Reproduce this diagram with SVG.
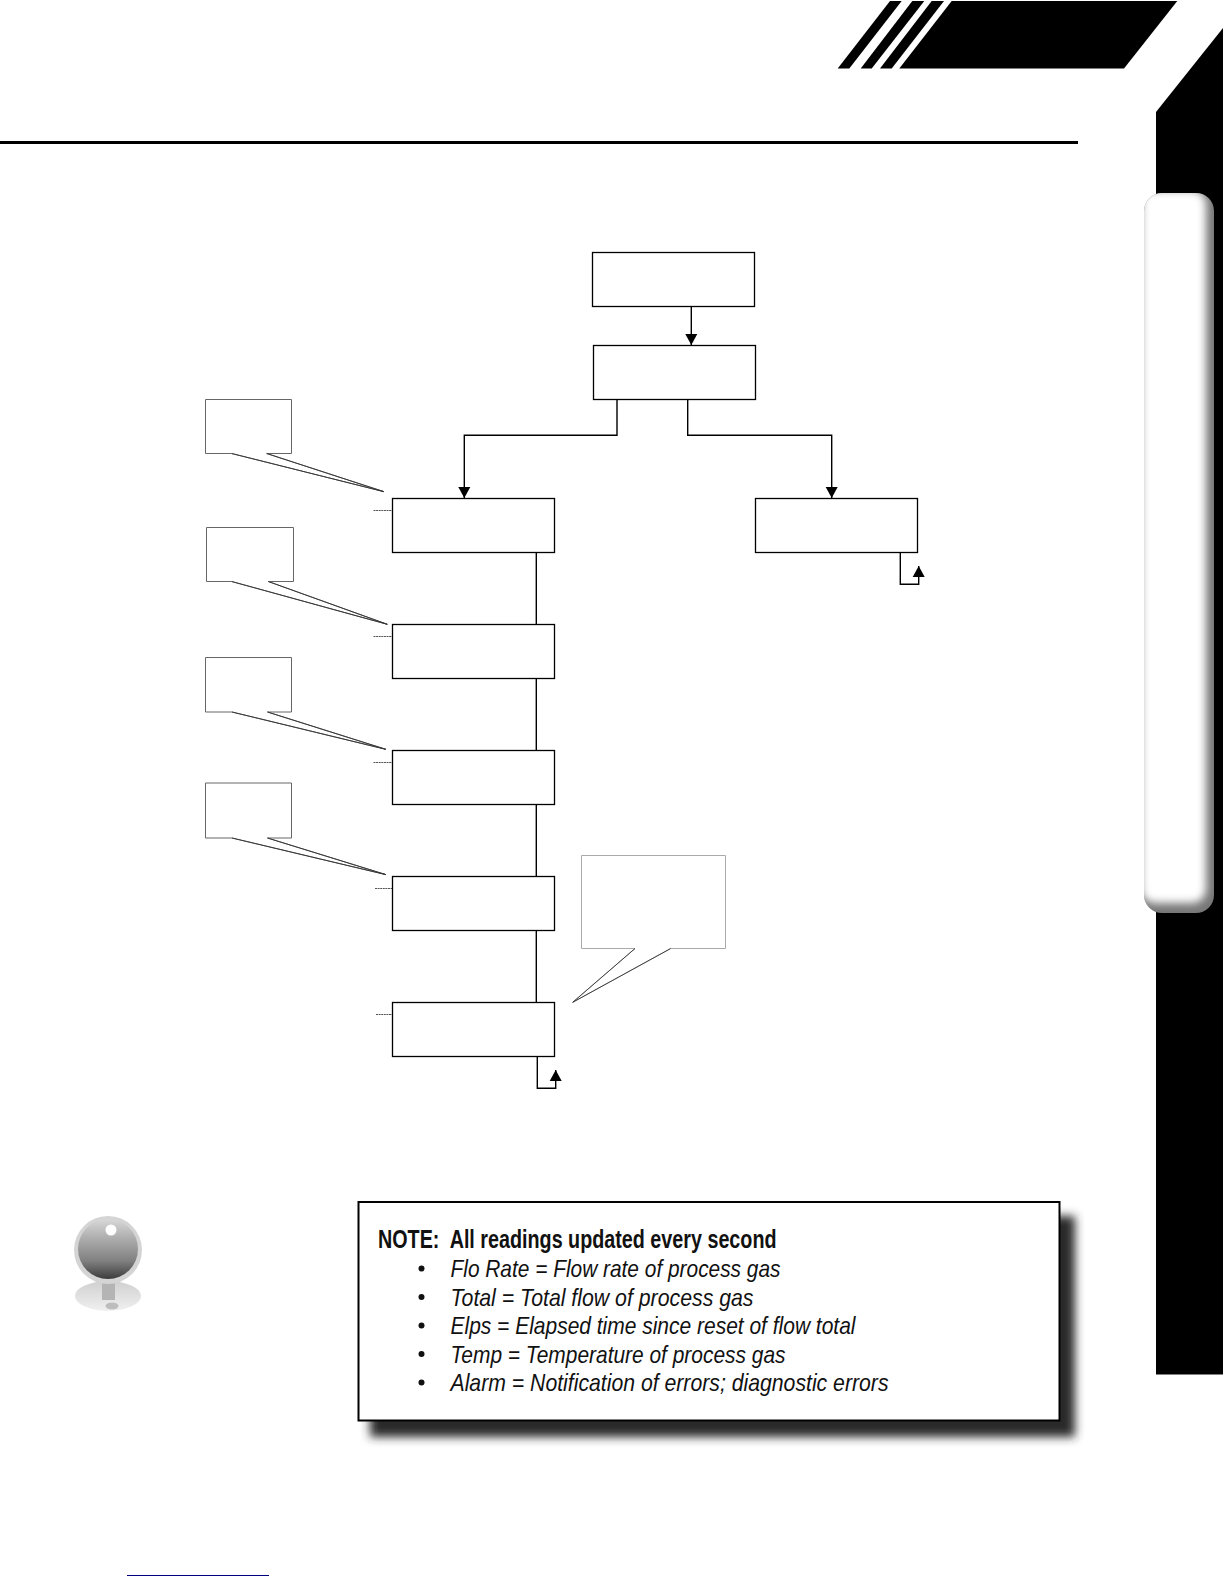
<svg xmlns="http://www.w3.org/2000/svg" width="1224" height="1584" viewBox="0 0 1224 1584">
<style>
.box{fill:#fff;stroke:#000;stroke-width:1.3}
.conn{fill:none;stroke:#000;stroke-width:1.4}
.dash{fill:none;stroke:#555;stroke-width:1;stroke-dasharray:2 .6}
.co{fill:#fff;stroke:#666;stroke-width:1}
.co2{fill:#fff;stroke:#aaa;stroke-width:1}
.tail{fill:none;stroke:#333;stroke-width:.9}
.t{font-family:"Liberation Sans",Arial,sans-serif;font-size:24px;fill:#111;white-space:pre}
.i{font-style:italic}
.b{font-weight:bold;font-size:25px}
</style>
<defs>
<marker id="arrow" markerUnits="userSpaceOnUse" markerWidth="13" markerHeight="14" refX="11" refY="7" orient="auto"><path d="M0,1L11,7L0,13Z" fill="#000"/></marker>
<filter id="blur8" x="-10%" y="-20%" width="120%" height="140%"><feGaussianBlur stdDeviation="5"/></filter>
<filter id="blur3" x="-20%" y="-10%" width="140%" height="120%"><feGaussianBlur stdDeviation="4"/></filter>
<clipPath id="tabclip"><rect x="1144" y="193" width="70" height="720" rx="18"/></clipPath>
<linearGradient id="ball" x1="0" y1="0" x2="0" y2="1"><stop offset="0" stop-color="#d8d8d8"/><stop offset=".3" stop-color="#b0b0b0"/><stop offset=".7" stop-color="#808080"/><stop offset="1" stop-color="#3c3c3c"/></linearGradient>
<linearGradient id="refl" x1="0" y1="0" x2="0" y2="1"><stop offset="0" stop-color="#d0d0d0"/><stop offset="1" stop-color="#f0f0f0"/></linearGradient>
</defs>

<g id="page-art">
<polygon points="890,1 901.7,1 849.3,68.5 837.7,68.5" fill="#000"/>
<polygon points="912.3,1 924.3,1 871.7,68.5 860.7,68.5" fill="#000"/>
<polygon points="931.7,1 944,1 891.7,68.5 880,68.5" fill="#000"/>
<polygon points="951.7,1 1177.3,1 1124,68.5 899.3,68.5" fill="#000"/>
<rect x="0" y="141" width="1078" height="3" fill="#000"/>
<polygon points="1223,28 1223,1374.5 1156,1374.5 1156,112" fill="#000"/>
<g id="tab" clip-path="url(#tabclip)">
<rect x="1144" y="193" width="70" height="720" fill="#777"/>
<rect x="1141" y="190" width="65" height="713" rx="14" fill="#fff" filter="url(#blur3)"/>
</g>
<rect x="127" y="1575" width="142" height="1" fill="#000080"/>
</g>

<g id="callouts">
<g id="callout-1"><path class="co" d="M205.5,399.5H291.5V453.5H266.7L384,491.7L231.7,453.5H205.5Z"/><path class="tail" d="M266.7,453.5L384,491.7L231.7,453.5"/></g>
<g id="callout-2"><path class="co" d="M206.5,527.5H293.5V581.5H268.3L387.3,624.3L231.7,581.5H206.5Z"/><path class="tail" d="M268.3,581.5L387.3,624.3L231.7,581.5"/></g>
<g id="callout-3"><path class="co" d="M205.5,657.5H291.5V712H267.5L385.8,749.3L232,712H205.5Z"/><path class="tail" d="M267.5,712L385.8,749.3L232,712"/></g>
<g id="callout-4"><path class="co" d="M205.5,783H291.5V838H267.5L385.8,874.6L232,838H205.5Z"/><path class="tail" d="M267.5,838L385.8,874.6L232,838"/></g>
<g id="callout-5"><path class="co2" d="M581.5,855.5H725.5V948.5H670.7L572.7,1002.3L635,948.5H581.5Z"/><path class="tail" d="M670.7,948.5L572.7,1002.3L635,948.5"/></g>
</g>

<g id="connectors">
<path class="conn" d="M691.3,306V345" marker-end="url(#arrow)"/>
<path class="conn" d="M617,399V435.3H464.3V498" marker-end="url(#arrow)"/>
<path class="conn" d="M687.7,399V435.3H831.7V498" marker-end="url(#arrow)"/>
<path class="conn" d="M900.3,552.3V584.3H918.7V566" marker-end="url(#arrow)"/>
<path class="conn" d="M537.3,1056.3V1088.3H555.7V1070" marker-end="url(#arrow)"/>
<path class="conn" d="M536.3,552.3V624M536.3,678.3V750M536.3,804.3V876M536.3,930.3V1002"/>
<path class="dash" d="M373.5,510.5H392M373.5,636.5H392M373.5,762.5H392M375,888.5H392M376,1014.5H392"/>
</g>

<g id="node-1"><rect class="box" x="592.5" y="252.5" width="162" height="54"/></g>
<g id="node-2"><rect class="box" x="593.5" y="345.5" width="162" height="54"/></g>
<g id="node-3"><rect class="box" x="392.5" y="498.5" width="162" height="54"/></g>
<g id="node-4"><rect class="box" x="755.5" y="498.5" width="162" height="54"/></g>
<g id="node-5"><rect class="box" x="392.5" y="624.5" width="162" height="54"/></g>
<g id="node-6"><rect class="box" x="392.5" y="750.5" width="162" height="54"/></g>
<g id="node-7"><rect class="box" x="392.5" y="876.5" width="162" height="54"/></g>
<g id="node-8"><rect class="box" x="392.5" y="1002.5" width="162" height="54"/></g>

<g id="info-icon">
<ellipse cx="108" cy="1296" rx="33" ry="15" fill="url(#refl)"/>
<rect x="102" y="1282" width="13" height="18" fill="#b4b4b4"/>
<ellipse cx="112" cy="1306" rx="6.5" ry="3.5" fill="#bdbdbd"/>
<circle cx="108" cy="1250" r="34" fill="#d4d4d4"/>
<circle cx="108" cy="1249" r="30" fill="url(#ball)"/>
<circle cx="111" cy="1230" r="5.5" fill="#fff"/>
</g>

<g id="note">
<rect x="370" y="1216" width="705" height="221" fill="#2a2a2a" filter="url(#blur8)"/>
<rect x="358.5" y="1202" width="701" height="218.5" fill="#fff" stroke="#000" stroke-width="2"/>
<text class="t b" x="378" y="1248.3" textLength="398.5" lengthAdjust="spacingAndGlyphs">NOTE:  All readings updated every second</text>
<g class="bullets" fill="#111"><circle cx="421.5" cy="1268.5" r="3"/><circle cx="421.5" cy="1297" r="3"/><circle cx="421.5" cy="1325.5" r="3"/><circle cx="421.5" cy="1354" r="3"/><circle cx="421.5" cy="1382.5" r="3"/></g>
<text class="t i" x="450.5" y="1277.3" textLength="330" lengthAdjust="spacingAndGlyphs">Flo Rate = Flow rate of process gas</text>
<text class="t i" x="450.5" y="1305.7" textLength="303" lengthAdjust="spacingAndGlyphs">Total = Total flow of process gas</text>
<text class="t i" x="450.5" y="1334" textLength="405" lengthAdjust="spacingAndGlyphs">Elps = Elapsed time since reset of flow total</text>
<text class="t i" x="450.5" y="1362.7" textLength="335" lengthAdjust="spacingAndGlyphs">Temp = Temperature of process gas</text>
<text class="t i" x="450.5" y="1391.3" textLength="438" lengthAdjust="spacingAndGlyphs">Alarm = Notification of errors; diagnostic errors</text>
</g>
</svg>
